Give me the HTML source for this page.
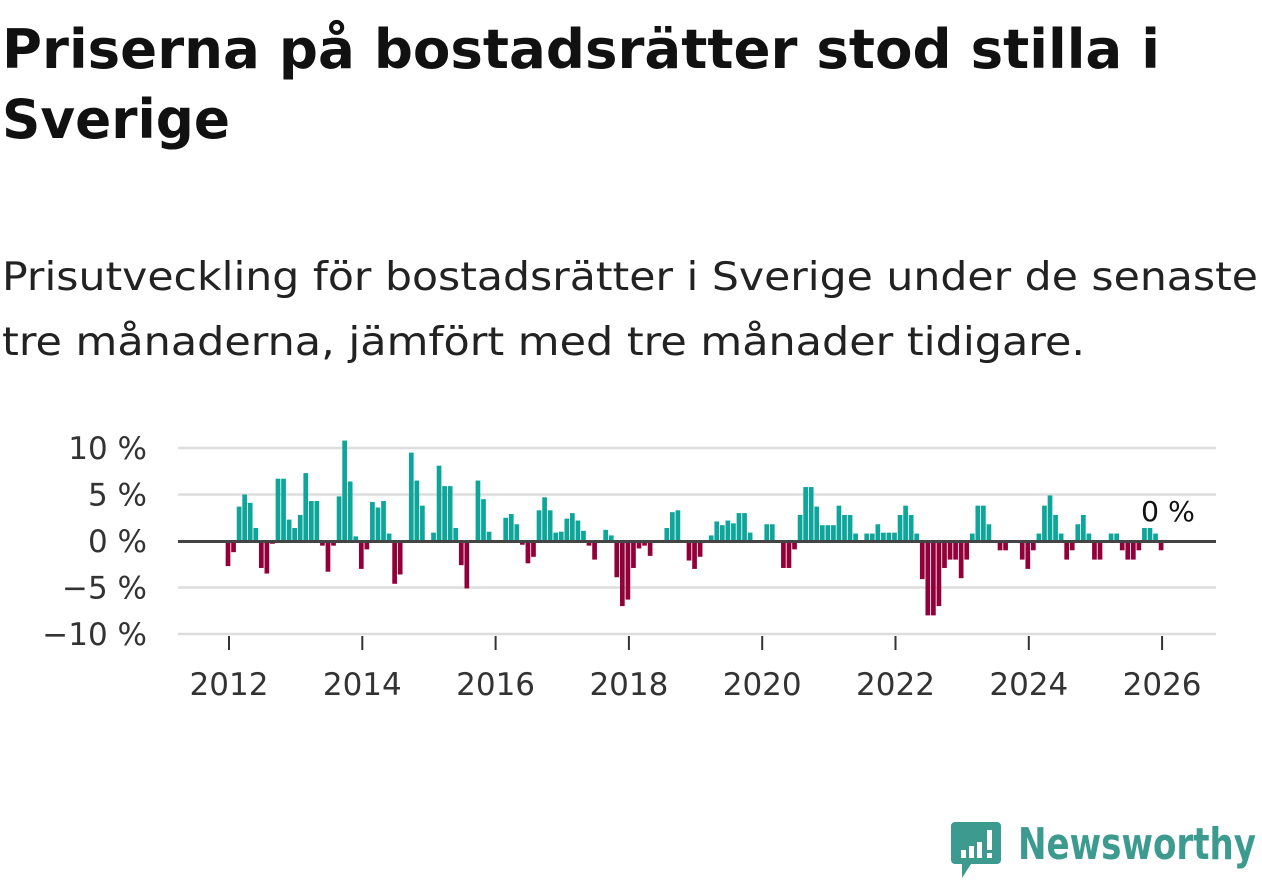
<!DOCTYPE html>
<html><head><meta charset="utf-8"><style>
body{margin:0;background:#fff;width:1262px;height:879px;overflow:hidden;font-family:"DejaVu Sans","Liberation Sans",sans-serif}
</style></head><body>
<svg width="1262" height="879" xmlns="http://www.w3.org/2000/svg">
<text x="2" y="68" font-size="54" font-weight="bold" fill="#111" textLength="1158" lengthAdjust="spacingAndGlyphs">Priserna på bostadsrätter stod stilla i</text>
<text x="2" y="138" font-size="54" font-weight="bold" fill="#111" textLength="228" lengthAdjust="spacingAndGlyphs">Sverige</text>
<text x="2" y="290" font-size="39" fill="#222" textLength="1256" lengthAdjust="spacingAndGlyphs">Prisutveckling för bostadsrätter i Sverige under de senaste</text>
<text x="2" y="355" font-size="39" fill="#222" textLength="1083" lengthAdjust="spacingAndGlyphs">tre månaderna, jämfört med tre månader tidigare.</text>
<g id="grid"></g><g id="bars"></g><g id="axes"></g>
<text x="1168" y="521" font-size="28" fill="#111" text-anchor="middle" textLength="54" lengthAdjust="spacingAndGlyphs" stroke="#fff" stroke-width="6" paint-order="stroke">0 %</text>
<g>
<path d="M955 822 h42 a4 4 0 0 1 4 4 v34 a4 4 0 0 1 -4 4 h-26 l-9 14 v-14 h-7 a4 4 0 0 1 -4 -4 v-34 a4 4 0 0 1 4 -4z" fill="#3d9a8f"/>
<rect x="961" y="850" width="5" height="8" fill="#fff"/><rect x="969" y="846" width="5" height="12" fill="#fff"/><rect x="977" y="842" width="5" height="16" fill="#fff"/><rect x="987" y="830" width="5" height="20" fill="#fff"/><rect x="987" y="853" width="5" height="5" fill="#fff"/>
<text x="1018" y="859" font-size="44" font-weight="bold" fill="#3d9a8f" textLength="238" lengthAdjust="spacingAndGlyphs">Newsworthy</text>
</g>
</svg>
<script>
const yTicks=[10,5,0,-5,-10];
const yTickLabels=["10 %","5 %","0 %","\u22125 %","\u221210 %"];
const xTicks=[2012,2014,2016,2018,2020,2022,2024,2026];
const startYear=2012;
const values=[-2.7,-1.2,3.7,5.0,4.1,1.4,-2.9,-3.5,-0.3,6.7,6.7,2.3,1.4,2.8,7.3,4.3,4.3,-0.5,-3.3,-0.5,4.8,10.8,6.4,0.5,-3.0,-0.9,4.2,3.6,4.3,0.8,-4.6,-3.6,0,9.5,6.5,3.8,0,0.9,8.1,5.9,5.9,1.4,-2.6,-5.1,0,
6.5,4.5,1.0,0,0,2.5,2.9,1.8,-0.4,-2.4,-1.7,3.3,4.7,3.3,0.9,1.0,2.4,3.0,2.2,1.1,-0.5,-2.0,0,1.2,0.6,-3.9,-7.0,-6.3,-2.9,-0.8,-0.5,-1.6,-0.2,-0.2,1.4,3.1,3.3,0.1,-2.1,-3.0,-1.7,0,0.6,2.1,
1.7,2.2,1.9,3.0,3.0,0.9,0,0,1.8,1.8,0,-2.9,-2.9,-0.9,2.8,5.8,5.8,3.7,1.7,1.7,1.7,3.8,2.8,2.8,0.8,0,0.8,0.8,1.8,0.9,0.9,0.9,2.8,3.8,2.8,0.8,-4.1,-8.0,-8.0,-7.0,-2.9,-2.0,-2.0,-4.0,-2.0,
0.8,3.8,3.8,1.8,0,-1.0,-1.0,0,0,-2.0,-3.0,-1.0,0.8,3.8,4.9,2.8,0.8,-2.0,-1.0,1.8,2.8,0.8,-2.0,-2.0,0,0.8,0.8,-1.0,-2.0,-2.0,-1.0,1.4,1.4,0.8,-1.0,0];
const NS="http://www.w3.org/2000/svg";
const xs=t=>229+(t-2012)*66.65;
const ys=v=>541-v*9.3;
const grid=document.getElementById('grid'),bars=document.getElementById('bars'),axes=document.getElementById('axes');
yTicks.forEach((v,i)=>{
 if(v!==0){const l=document.createElementNS(NS,'line');
 l.setAttribute('x1',178);l.setAttribute('x2',1216);l.setAttribute('y1',ys(v));l.setAttribute('y2',ys(v));
 l.setAttribute('stroke','#ddd');l.setAttribute('stroke-width',2.5);
 
 
 grid.appendChild(l);}
 const t=document.createElementNS(NS,'text');
 t.setAttribute('x',147);t.setAttribute('y',ys(v)+11);t.setAttribute('text-anchor','end');
 t.setAttribute('font-size',31);t.setAttribute('fill','#333');t.textContent=yTickLabels[i];
 
 
 axes.appendChild(t);
});
values.forEach((v,i)=>{
 if(v===0)return;
 const r=document.createElementNS(NS,'rect');
 const x=xs(startYear+i/12)-1;
 r.setAttribute('x',x-2.35);r.setAttribute('width',4.7);
 r.setAttribute('y',Math.min(ys(v),ys(0)));r.setAttribute('height',Math.abs(ys(v)-ys(0)));
 r.setAttribute('fill',v>0?'#0ea59a':'#930039');
 
 
 bars.appendChild(r);
});
const z=document.createElementNS(NS,'line');
z.setAttribute('x1',178);z.setAttribute('x2',1216);z.setAttribute('y1',541.5);z.setAttribute('y2',541.5);
z.setAttribute('stroke','#444');z.setAttribute('stroke-width',3);


axes.appendChild(z);
xTicks.forEach(y=>{
 const l=document.createElementNS(NS,'line');
 l.setAttribute('x1',xs(y));l.setAttribute('x2',xs(y));l.setAttribute('y1',636);l.setAttribute('y2',650);
 l.setAttribute('stroke','#333');l.setAttribute('stroke-width',2);
 
 
 axes.appendChild(l);
 const t=document.createElementNS(NS,'text');
 t.setAttribute('x',xs(y));t.setAttribute('y',695);t.setAttribute('text-anchor','middle');
 t.setAttribute('font-size',31);t.setAttribute('fill','#333');t.textContent=y;
 
 
 axes.appendChild(t);
});
</script>
</body></html>
